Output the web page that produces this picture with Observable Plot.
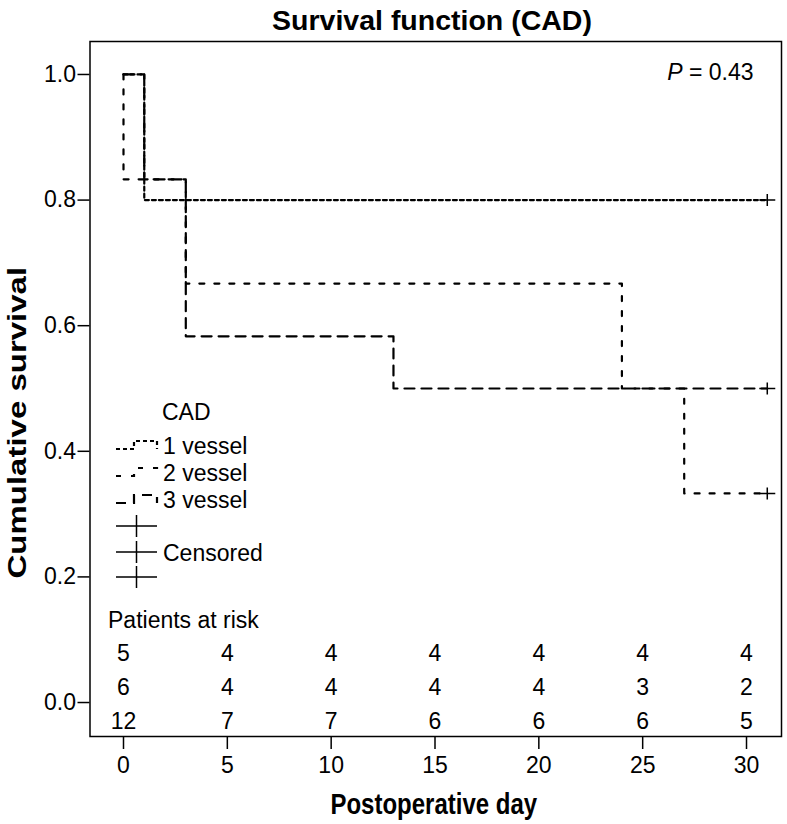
<!DOCTYPE html>
<html><head><meta charset="utf-8">
<script src="https://cdn.jsdelivr.net/npm/d3@7"></script>
<script src="https://cdn.jsdelivr.net/npm/@observablehq/plot@0.6"></script>
<style>
body{margin:0;background:#fff;font-family:"Liberation Sans",Arial,sans-serif;}
#title{width:787px;height:40px;line-height:40px;text-align:center;font-weight:bold;font-size:28.5px;color:#000;text-indent:77px;white-space:nowrap;}
#chart{width:787px;}
</style></head><body>
<div id="title">Survival function (CAD)</div>
<div id="chart"></div>
<script>
// ---- data ----
const groupNames = ["1 vessel", "2 vessel", "3 vessel"];
const g1Time = [0, 1, 31];
const g1Surv = [1, 0.8, 0.8];
const g2Time = [0, 0, 3, 24, 27, 31];
const g2Surv = [1, 0.833, 0.667, 0.5, 0.333, 0.333];
const g3Time = [0, 1, 3, 13, 31];
const g3Surv = [1, 0.833, 0.583, 0.5, 0.5];
const censorTime = [31, 31, 31];
const censorSurv = [0.8, 0.333, 0.5];
const riskDays = [0, 5, 10, 15, 20, 25, 30];
const atRisk1 = [5, 4, 4, 4, 4, 4, 4];
const atRisk2 = [6, 4, 4, 4, 4, 3, 2];
const atRisk3 = [12, 7, 7, 6, 6, 6, 5];
const yTicks = [0, 0.2, 0.4, 0.6, 0.8, 1.0];
const xTicks = [0, 5, 10, 15, 20, 25, 30];
const pText = "P = 0.43";
const legendTitle = "CAD";
const censorLabel = "Censored";
const riskTitle = "Patients at risk";
const xLabel = "Postoperative day";
const yLabel = "Cumulative survival";

// ---- build tables ----
const series = [[g1Time, g1Surv], [g2Time, g2Surv], [g3Time, g3Surv]].map(([t, s], i) =>
  t.map((d, j) => ({t: d, s: s[j], g: groupNames[i]})));
const censor = censorTime.map((t, i) => ({t, s: censorSurv[i]}));
const riskRows = [atRisk1, atRisk2, atRisk3].map(r => riskDays.map((d, j) => ({day: d, n: r[j]})));

const dash = ["4,3", "5,10", "10,7"];
const plusSym = {draw(ctx) { ctx.moveTo(-8, 0); ctx.lineTo(8, 0); ctx.moveTo(0, -6); ctx.lineTo(0, 6); }};
const rowDy = [-83, -49, -15];
const FONT = "'Liberation Sans', Arial, sans-serif";

const plot = Plot.plot({
  width: 787, height: 784,
  marginTop: 1, marginBottom: 88, marginLeft: 89.5, marginRight: 6,
  x: {domain: [-1.613, 31.685]},
  y: {domain: [-0.0541, 1.0525]},
  style: {fontFamily: FONT, fontSize: "23px", color: "#000", background: "#fff", overflow: "visible"},
  marks: [
    Plot.axisY({ticks: yTicks, tickSize: 12, tickPadding: 2, tickFormat: d3.format(".1f"), strokeWidth: 1.5, label: null, fontSize: 23}),
    Plot.axisX({ticks: xTicks, tickSize: 13, tickPadding: 7, strokeWidth: 1.5, label: null, fontSize: 23}),
    ...series.map((d, i) => Plot.line(d, {x: "t", y: "s", curve: "step-after", stroke: "#000", strokeWidth: 2.2, strokeDasharray: dash[i]})),
    Plot.dot(censor, {x: "t", y: "s", symbol: plusSym, r: 8, stroke: "#000", strokeWidth: 1.5, fill: "none"}),
    ...riskRows.map((d, i) => Plot.text(d, {x: "day", frameAnchor: "bottom", lineAnchor: "middle", dy: rowDy[i], text: "n", fontSize: 23})),
    Plot.text([riskTitle], {frameAnchor: "bottom-left", textAnchor: "start", lineAnchor: "middle", dx: 18, dy: -116, fontSize: 23}),
    Plot.text([pText], {frameAnchor: "top-right", textAnchor: "end", lineAnchor: "middle", dx: -28, dy: 31, fontSize: 23}),
    Plot.text([xLabel], {frameAnchor: "bottom", lineAnchor: "middle", dx: -2, dy: 68, fontWeight: "bold", fontSize: 30}),
    Plot.text([yLabel], {frameAnchor: "left", textAnchor: "start", lineAnchor: "middle", rotate: -90, dx: -72.5, dy: 189.5, fontWeight: "bold", fontSize: 33}),
    Plot.frame({stroke: "#000", strokeWidth: 1.5})
  ]
});
document.getElementById("chart").appendChild(plot);

const svg = d3.select(plot);
// italic P
svg.selectAll("text").filter(function() { return this.textContent === pText; }).each(function() {
  const t = d3.select(this); t.text("");
  t.append("tspan").attr("font-style", "italic").text(pText.slice(0, 1));
  t.append("tspan").text(pText.slice(1));
});
// condensed axis titles
svg.selectAll("text").filter(function() { return this.textContent === xLabel; }).each(function() {
  this.setAttribute("transform", (this.getAttribute("transform") || "") + " scale(0.8,1)");
});
svg.selectAll("text").filter(function() { return this.textContent === yLabel; }).each(function() {
  this.setAttribute("transform", (this.getAttribute("transform") || "") + " scale(1,0.78)");
});

// legend (SVG coords)
const lg = svg.append("g").attr("font-family", FONT).attr("font-size", 23).attr("fill", "#000").attr("text-anchor", "start");
lg.append("text").attr("x", 162).attr("y", 372).attr("dy", "0.35em").text(legendTitle);
groupNames.forEach((g, i) => {
  const cy = 406 + i * 27;
  const lo = cy + 3, hi = cy - 5;
  lg.append("path").attr("d", `M116,${lo}H134V${hi}H157V${lo}`).attr("fill", "none").attr("stroke", "#000").attr("stroke-width", 2.2).attr("stroke-dasharray", dash[i]);
  lg.append("text").attr("x", 163).attr("y", cy).attr("dy", "0.35em").text(g);
});
[486, 512, 537].forEach(cy => {
  lg.append("path").attr("d", `M116,${cy}H157M136.5,${cy - 11}V${cy + 11}`).attr("stroke", "#000").attr("stroke-width", 1.5);
});
lg.append("text").attr("x", 163).attr("y", 513).attr("dy", "0.35em").text(censorLabel);
</script>
</body></html>
